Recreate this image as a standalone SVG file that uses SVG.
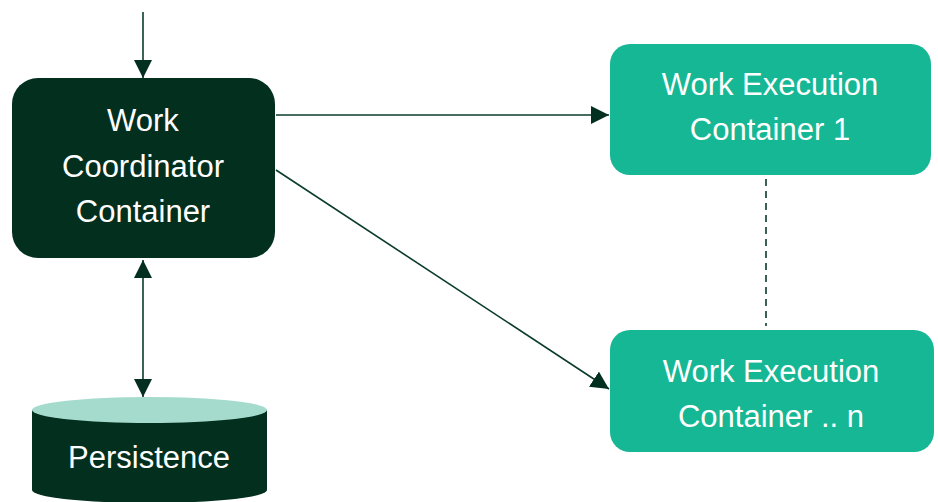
<svg xmlns="http://www.w3.org/2000/svg" width="938" height="502" viewBox="0 0 938 502">
<defs>
<marker id="ah" viewBox="0 0 10 10" refX="10" refY="5" markerWidth="18" markerHeight="18" markerUnits="userSpaceOnUse" orient="auto-start-reverse">
<path d="M0,0 L10,5 L0,10 Z" fill="#032f20"/>
</marker>
<style>
.lbl{font-family:"Liberation Sans",Arial,sans-serif;font-size:31px;fill:#ffffff;text-anchor:middle}
.conn{stroke:#0b3b2c;stroke-width:1.6;fill:none}
</style>
</defs>
<g id="connectors">
<line class="conn" x1="143" y1="12" x2="143" y2="78" marker-end="url(#ah)"/>
<line class="conn" x1="143" y1="260" x2="143" y2="397" marker-start="url(#ah)" marker-end="url(#ah)"/>
<line class="conn" x1="276" y1="115" x2="609" y2="115" marker-end="url(#ah)"/>
<line class="conn" x1="276" y1="170" x2="609" y2="389" marker-end="url(#ah)"/>
<line class="conn" x1="766" y1="179" x2="766" y2="326" stroke-dasharray="7,5"/>
</g>
<g id="coordinator">
<rect x="12" y="78" width="263" height="180" rx="26" fill="#032f1f"/>
<text class="lbl" x="143" y="131">Work</text>
<text class="lbl" x="143" y="177">Coordinator</text>
<text class="lbl" x="143" y="222">Container</text>
</g>
<g id="exec1">
<rect x="610" y="44" width="321" height="131" rx="20" fill="#16b794"/>
<text class="lbl" x="770" y="95">Work Execution</text>
<text class="lbl" x="770" y="140">Container 1</text>
</g>
<g id="execn">
<rect x="610" y="330" width="324" height="122" rx="20" fill="#16b794"/>
<text class="lbl" x="771" y="382">Work Execution</text>
<text class="lbl" x="771" y="427">Container .. n</text>
</g>
<g id="persistence">
<path d="M32,410 L32,490 A117.5,13 0 0 0 267,490 L267,410 Z" fill="#032f1f"/>
<ellipse cx="149.5" cy="410" rx="117.5" ry="13" fill="#a5dbcd"/>
<text class="lbl" x="149" y="468">Persistence</text>
</g>
</svg>
